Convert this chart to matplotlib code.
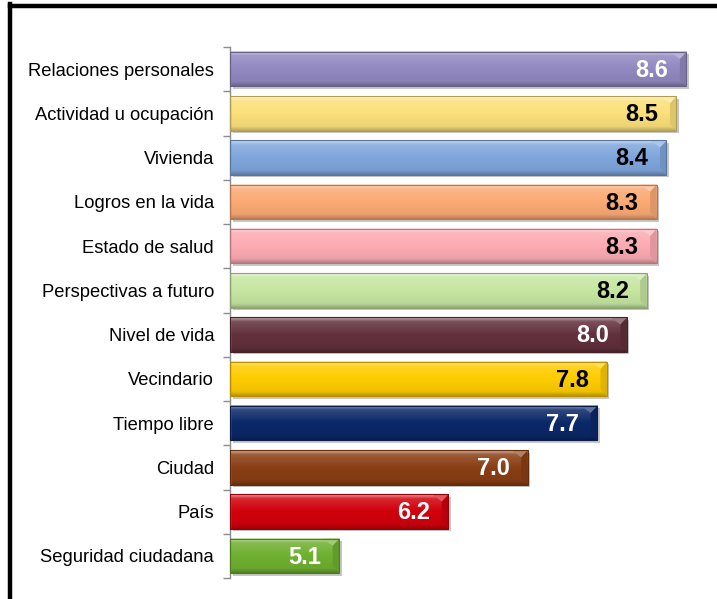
import numpy as np
import matplotlib
matplotlib.use("Agg")
import matplotlib.pyplot as plt
from matplotlib.colors import to_rgb
from matplotlib.patches import Polygon
import matplotlib.transforms as mtransforms

categories = ["Relaciones personales", "Actividad u ocupación", "Vivienda",
              "Logros en la vida", "Estado de salud", "Perspectivas a futuro",
              "Nivel de vida", "Vecindario", "Tiempo libre", "Ciudad", "País",
              "Seguridad ciudadana"]
values = [8.6, 8.5, 8.4, 8.3, 8.3, 8.2, 8.0, 7.8, 7.7, 7.0, 6.2, 5.1]
colors = ["#9189C0", "#FBE07A", "#7FA6DC", "#FBAA74", "#FDABB3", "#C6E6A0",
          "#62303C", "#FFCC00", "#0B2868", "#8A3E14", "#D0000C", "#6FB030"]
label_colors = ["white", "black", "black", "black", "black", "black",
                "white", "black", "white", "white", "white", "white"]

plt.rcParams['font.family'] = ['Liberation Sans', 'DejaVu Sans']

W, H = 717, 599
fig = plt.figure(figsize=(W / 100, H / 100), dpi=100)
fig.patch.set_facecolor("white")

# outer frame (left and top black lines)
fig.add_artist(plt.Line2D([9.5 / W, 9.5 / W], [0, 1 - 4 / H], color="black", lw=3.2,
                          transform=fig.transFigure, solid_capstyle="projecting"))
fig.add_artist(plt.Line2D([9.5 / W, 1], [1 - 5.5 / H, 1 - 5.5 / H], color="black", lw=3.2,
                          transform=fig.transFigure, solid_capstyle="projecting"))

left = 230 / W
ax_top = 47
ax_bot = 578
ax = fig.add_axes([left, (H - ax_bot) / H, (726 - 230) / W, (ax_bot - ax_top) / H])
ax.set_facecolor("none")

n = len(categories)
ypos = np.arange(n)
h = 0.78
xmin, xmax = 4.0, 9.0

def mix(c, t, amt):
    c = np.array(to_rgb(c)); t = np.array(to_rgb(t))
    return c * (1 - amt) + t * amt

shadow_tr = mtransforms.offset_copy(ax.transData, fig=fig, x=2.5, y=-2.5, units="dots")
for i, (v, c) in enumerate(zip(values, colors)):
    # shadow
    ax.barh(ypos[i], v - xmin, left=xmin, height=h, color=(0, 0, 0, 0.22),
            transform=shadow_tr, zorder=1)
    # gradient body
    rows = 40
    grad = np.zeros((rows, 1, 3))
    for r in range(rows):
        f = r / (rows - 1)
        if f < 0.12:
            col = mix(c, "white", 0.45 * (1 - f / 0.12) + 0.15)
        elif f < 0.5:
            col = mix(c, "white", 0.15 * (1 - (f - 0.12) / 0.38))
        elif f < 0.88:
            col = mix(c, "black", 0.06 * (f - 0.5) / 0.38)
        else:
            col = mix(c, "black", 0.06 + 0.2 * (f - 0.88) / 0.12)
        grad[r, 0] = col
    ax.imshow(grad, extent=(xmin, v, ypos[i] + h / 2, ypos[i] - h / 2),
              aspect="auto", zorder=2, interpolation="bilinear")
    # bevel at right end
    d = 0.065
    e = 0.16
    y0, y1 = ypos[i] - h / 2, ypos[i] + h / 2
    ax.add_patch(Polygon([(v - d, y0 + e), (v, y0), (v, y1), (v - d, y1 - e)],
                         closed=True, facecolor=mix(c, "black", 0.12), edgecolor="none", zorder=3))
    ax.add_patch(Polygon([(v - d, y0 + e), (v, y0), (v - d * 2.5, y0)],
                         closed=True, facecolor=mix(c, "white", 0.35), edgecolor="none", zorder=3))
    # outline
    ax.barh(ypos[i], v - xmin, left=xmin, height=h, color="none",
            edgecolor=mix(c, "black", 0.3), linewidth=0.8, zorder=4)
    ax.text(v - 0.18, ypos[i] + 0.03, f"{v:.1f}", ha="right", va="center",
            fontsize=17, fontweight="bold", color=label_colors[i], zorder=5)

ax.set_xlim(xmin, xmax)
ax.set_ylim(n - 0.5, -0.5)

for s in ["top", "right", "bottom"]:
    ax.spines[s].set_visible(False)
ax.spines["left"].set_color("#8C8C8C")
ax.spines["left"].set_linewidth(1.0)
ax.set_xticks([])
ax.set_yticks(np.arange(n + 1) - 0.5)
ax.set_yticklabels([])
ax.tick_params(axis="y", which="major", length=5, color="#8C8C8C", width=1.0)
ax.set_yticks(ypos, minor=True)
ax.set_yticklabels(categories, minor=True, fontsize=13.2)
ax.tick_params(axis="y", which="minor", length=0, pad=11.5)

fig.savefig("out.png", dpi=100)
